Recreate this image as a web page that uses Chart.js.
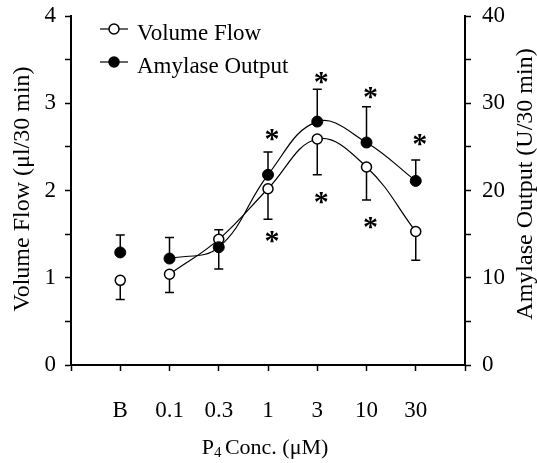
<!DOCTYPE html>
<html>
<head>
<meta charset="utf-8">
<script src="https://cdn.jsdelivr.net/npm/chart.js@4.4.1/dist/chart.umd.min.js"></script>
<style>
  body { margin: 0; background: #fff; }
</style>
</head>
<body>
<canvas id="chart" width="537" height="463"></canvas>
<script>
// doses, B = basal
const categories = ['B', '0.1', '0.3', '1', '3', '10', '30'];

// volume flow (ul/30 min), left axis
const volumeFlow = [0.97, 1.04, 1.44, 2.02, 2.59, 2.27, 1.53];
const volumeErr = [0.22, 0.21, 0.11, 0.35, 0.41, 0.38, 0.33];
const volumeErrDir = [-1, -1, 1, -1, -1, -1, -1];

// amylase output (U/30 min), right axis
const amylase = [12.9, 12.2, 13.5, 21.8, 27.9, 25.5, 21.1];
const amylaseErr = [2.0, 2.4, 2.5, 2.6, 3.7, 4.1, 2.4];
const amylaseErrDir = [1, 1, -1, 1, 1, 1, 1];

// significance marks: [category index, value on left axis]
const stars = [[3, 2.64], [3, 1.47], [4, 3.29], [4, 1.91], [5, 3.12], [5, 1.63], [6, 2.58]];

const leftTicks = [0, 1, 2, 3, 4];
const rightTicks = [0, 10, 20, 30, 40];

const serif = '"Liberation Serif", "Times New Roman", serif';

const pts = (arr, from, to) => arr.slice(from, to).map((v, i) => ({ x: i + from, y: v }));

const errorBars = {
  id: 'errorBars',
  beforeDatasetsDraw(chart) {
    const ctx = chart.ctx;
    const xs = chart.scales.x;
    const sets = [
      [volumeFlow, volumeErr, volumeErrDir, chart.scales.y],
      [amylase, amylaseErr, amylaseErrDir, chart.scales.y1]
    ];
    ctx.save();
    ctx.strokeStyle = '#000';
    ctx.lineWidth = 1.5;
    sets.forEach(([vals, errs, dirs, ys]) => {
      vals.forEach((v, i) => {
        const x = xs.getPixelForValue(i);
        const y0 = ys.getPixelForValue(v);
        const y1 = ys.getPixelForValue(v + dirs[i] * errs[i]);
        ctx.beginPath();
        ctx.moveTo(x, y0);
        ctx.lineTo(x, y1);
        ctx.moveTo(x - 4.5, y1);
        ctx.lineTo(x + 4.5, y1);
        ctx.stroke();
      });
    });
    ctx.restore();
  }
};

const extras = {
  id: 'extras',
  afterDraw(chart) {
    const ctx = chart.ctx;
    const xs = chart.scales.x, ys = chart.scales.y;
    const area = chart.chartArea;
    ctx.save();
    ctx.fillStyle = '#000';
    ctx.strokeStyle = '#000';

    // asterisks, centred on their spot
    ctx.font = 'bold 30px ' + serif;
    ctx.textAlign = 'center';
    ctx.textBaseline = 'alphabetic';
    const m = ctx.measureText('*');
    const shift = (m.actualBoundingBoxAscent - m.actualBoundingBoxDescent) / 2;
    stars.forEach(([i, v]) => {
      ctx.fillText('*', xs.getPixelForValue(i) + 4, ys.getPixelForValue(v) + shift);
    });

    // legend
    const rows = [['Volume Flow', '#fff'], ['Amylase Output', '#000']];
    ctx.font = '23px ' + serif;
    ctx.textAlign = 'left';
    rows.forEach(([label, fill], k) => {
      const y = area.top + 13 + k * 33;
      const x = area.left + 29;
      ctx.lineWidth = 1.2;
      ctx.beginPath();
      ctx.moveTo(x, y);
      ctx.lineTo(x + 28, y);
      ctx.stroke();
      ctx.beginPath();
      ctx.arc(x + 14, y, 5, 0, Math.PI * 2);
      ctx.fillStyle = fill;
      ctx.fill();
      ctx.lineWidth = 1.5;
      ctx.stroke();
      ctx.fillStyle = '#000';
      ctx.fillText(label, x + 37, y + 11);
    });

    // axis titles
    ctx.font = '24px ' + serif;
    ctx.textAlign = 'center';
    ctx.textBaseline = 'middle';
    ctx.save();
    ctx.translate(23, 189);
    ctx.rotate(-Math.PI / 2);
    ctx.fillText('Volume Flow (\u03bcl/30 min)', 0, 0);
    ctx.restore();
    ctx.save();
    ctx.translate(chart.width - 11, 184);
    ctx.rotate(-Math.PI / 2);
    ctx.fillText('Amylase Output (U/30 min)', 0, 0);
    ctx.restore();

    // x title with subscript
    const big = '22px ' + serif, small = '15px ' + serif;
    const rest = ' Conc. (\u03bcM)';
    ctx.font = big;
    const wP = ctx.measureText('P').width;
    const wR = ctx.measureText(rest).width;
    ctx.font = small;
    const w4 = ctx.measureText('4').width;
    const x = (area.left + area.right) / 2 - 3 - (wP + w4 + wR - 2) / 2;
    const y = 448;
    ctx.textAlign = 'left';
    ctx.font = big;
    ctx.fillText('P', x, y);
    ctx.font = small;
    ctx.fillText('4', x + wP, y + 5);
    ctx.font = big;
    ctx.fillText(rest, x + wP + w4 - 2, y);
    ctx.restore();
  }
};

const tickFont = { family: serif, size: 23 };

// keep tick-label overflow from pushing the plot area around
const noPad = s => { s.paddingTop = 0; s.paddingBottom = 0; s.paddingLeft = 0; s.paddingRight = 0; };

new Chart(document.getElementById('chart'), {
  type: 'line',
  data: {
    datasets: [
      {
        data: pts(amylase, 1, 7), yAxisID: 'y1',
        borderColor: '#000', borderWidth: 1.2, tension: 0.4,
        pointRadius: 5.5, pointBackgroundColor: '#000', pointBorderColor: '#000', pointBorderWidth: 1
      },
      {
        data: pts(amylase, 0, 1), yAxisID: 'y1', showLine: false,
        pointRadius: 5.5, pointBackgroundColor: '#000', pointBorderColor: '#000', pointBorderWidth: 1
      },
      {
        data: pts(volumeFlow, 1, 7), yAxisID: 'y',
        borderColor: '#000', borderWidth: 1.2, tension: 0.4,
        pointRadius: 5, pointBackgroundColor: '#fff', pointBorderColor: '#000', pointBorderWidth: 1.5
      },
      {
        data: pts(volumeFlow, 0, 1), yAxisID: 'y', showLine: false,
        pointRadius: 5, pointBackgroundColor: '#fff', pointBorderColor: '#000', pointBorderWidth: 1.5
      }
    ]
  },
  options: {
    responsive: false,
    animation: false,
    layout: { padding: { top: 16, left: 0, right: 0, bottom: 0 } },
    plugins: { legend: { display: false }, tooltip: { enabled: false } },
    scales: {
      x: {
        type: 'linear', min: -1, max: 7,
        afterFit: s => { s.height = 98; noPad(s); },
        afterBuildTicks: s => { s.ticks = [-1, 0, 1, 2, 3, 4, 5, 6, 7].map(v => ({ value: v })); },
        ticks: {
          color: '#000', font: tickFont, padding: 26, maxRotation: 0, autoSkip: false,
          callback: v => categories[v] ?? ''
        },
        border: { display: true, color: '#000', width: 2 },
        grid: { drawOnChartArea: false, color: '#000', tickLength: 6, tickWidth: 1.5 }
      },
      y: {
        position: 'left', min: 0, max: 4,
        afterFit: s => { s.width = 71; noPad(s); },
        afterBuildTicks: s => { s.ticks = [0, 0.5, 1, 1.5, 2, 2.5, 3, 3.5, 4].map(v => ({ value: v })); },
        ticks: {
          color: '#000', font: tickFont, padding: 9,
          callback: v => leftTicks.includes(v) ? String(v) : ''
        },
        border: { display: true, color: '#000', width: 2 },
        grid: { drawOnChartArea: false, color: '#000', tickLength: 6, tickWidth: 1.5 }
      },
      y1: {
        position: 'right', min: 0, max: 40,
        afterFit: s => { s.width = 72; noPad(s); },
        afterBuildTicks: s => { s.ticks = [0, 5, 10, 15, 20, 25, 30, 35, 40].map(v => ({ value: v })); },
        ticks: {
          color: '#000', font: tickFont, padding: 11,
          callback: v => rightTicks.includes(v) ? String(v) : ''
        },
        border: { display: true, color: '#000', width: 2 },
        grid: { drawOnChartArea: false, color: '#000', tickLength: 6, tickWidth: 1.5 }
      }
    }
  },
  plugins: [errorBars, extras]
});
</script>
</body>
</html>
